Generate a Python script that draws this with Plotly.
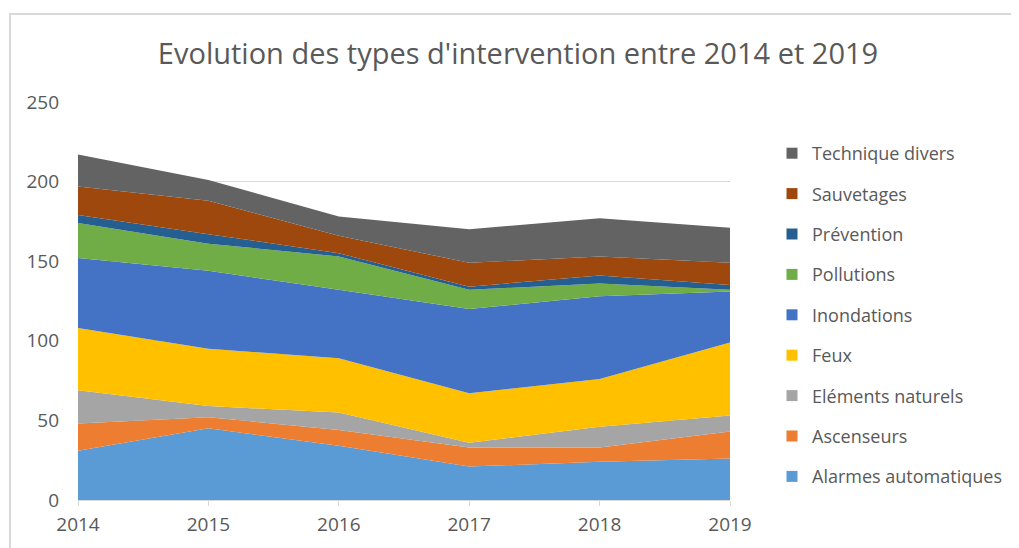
import plotly.graph_objects as go

years = [2014, 2015, 2016, 2017, 2018, 2019]
series_names = ["Alarmes automatiques", "Ascenseurs", "Eléments naturels", "Feux",
                "Inondations", "Pollutions", "Prévention", "Sauvetages", "Technique divers"]
alarmes = [31, 45, 34, 21, 24, 26]
ascenseurs = [17, 7, 10, 12, 9, 17]
elements = [21, 7, 11, 3, 13, 10]
feux = [39, 36, 34, 31, 30, 46]
inondations = [44, 49, 43, 53, 52, 32]
pollutions = [22, 17, 21, 12, 8, 1]
prevention = [5, 6, 2, 2, 5, 3]
sauvetages = [18, 21, 11, 15, 12, 14]
technique = [20, 13, 12, 21, 24, 22]
values = [alarmes, ascenseurs, elements, feux, inondations, pollutions, prevention, sauvetages, technique]
colors = ["#5B9BD5", "#ED7D31", "#A5A5A5", "#FFC000", "#4472C4",
          "#70AD47", "#255E91", "#9E480E", "#636363"]

FONT = "Open Sans"
GREY = "#595959"

fig = go.Figure()
for name, vals, col in zip(series_names, values, colors):
    fig.add_trace(go.Scatter(
        x=years, y=vals, name=name, stackgroup="one", mode="none",
        fillcolor=col, line=dict(width=0), showlegend=False, hoverinfo="x+y+name"))

# legend entries as square markers (top-to-bottom: last series first)
for name, col in reversed(list(zip(series_names, colors))):
    fig.add_trace(go.Scatter(
        x=[None], y=[None], name=name, mode="markers", legendgroup=name,
        marker=dict(symbol="square", size=11, color=col), showlegend=True))

# page has an 8px body margin: figure is drawn at (8, 8)
OFF = 8
W, H = 1019 - OFF, 548 - OFF
L, R, T, B = 78 - OFF, 289, 102 - OFF, 48
pw, ph = W - L - R, H - T - B

def px_to_paper_x(px):
    return (px - OFF - L) / pw

def px_to_paper_y(py):
    return (H - B - (py - OFF)) / ph

fig.update_layout(
    width=W, height=H,
    margin=dict(l=L, r=R, t=T, b=B, pad=0),
    paper_bgcolor="white", plot_bgcolor="white",
    font=dict(family=FONT, color=GREY, size=18),
    title=dict(text="Evolution des types d'intervention entre 2014 et 2019",
               x=(518 - OFF) / W, xanchor="center", y=1 - (54 - OFF) / H, yanchor="middle",
               font=dict(family=FONT, size=29, color=GREY)),
    xaxis=dict(range=[2014, 2019], tickvals=years, ticktext=[str(y) for y in years],
               showgrid=False, zeroline=False, showline=True, linecolor="#D9D9D9",
               linewidth=1, ticks="outside", ticklen=5, tickcolor="#D9D9D9",
               ticklabelstandoff=2,
               tickfont=dict(size=19, color=GREY), fixedrange=True),
    yaxis=dict(range=[0, 250], dtick=50, showgrid=True, gridcolor="#D9D9D9",
               gridwidth=1, zeroline=False, showline=False, ticks="",
               ticklabelstandoff=18, tickfont=dict(size=19, color=GREY), fixedrange=True),
    legend=dict(x=px_to_paper_x(772), xanchor="left", y=px_to_paper_y(135), yanchor="top",
                traceorder="grouped", tracegroupgap=14,
                font=dict(family=FONT, size=18, color=GREY),
                bgcolor="rgba(0,0,0,0)", borderwidth=0),
    shapes=[dict(type="rect", xref="paper", yref="paper",
                 x0=px_to_paper_x(10), x1=px_to_paper_x(1040),
                 y0=px_to_paper_y(570), y1=px_to_paper_y(14),
                 line=dict(color="#D9D9D9", width=2), fillcolor="rgba(0,0,0,0)",
                 layer="below")],
)

fig.write_html("out.html")
